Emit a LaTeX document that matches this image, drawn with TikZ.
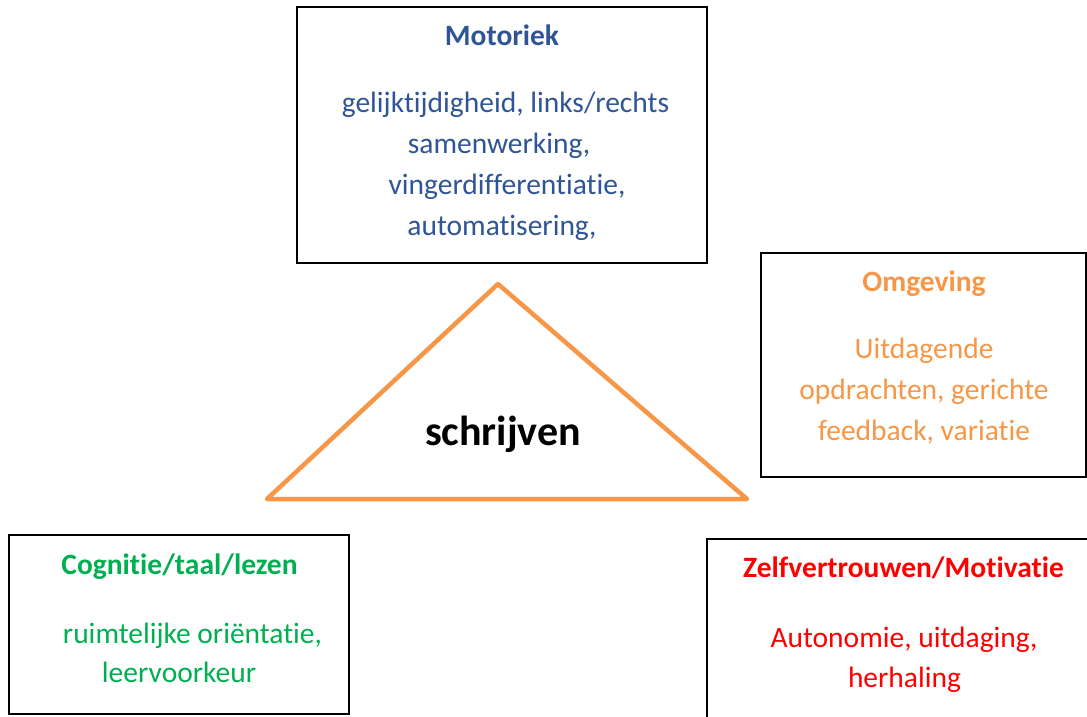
\documentclass[tikz,border=0pt]{standalone}
\usepackage{fontspec}
\setmainfont{Carlito}[Ligatures={NoCommon}]
\definecolor{mblue}{RGB}{47,85,151}
\definecolor{morange}{RGB}{247,150,70}
\definecolor{mgreen}{RGB}{0,176,80}
\definecolor{mred}{RGB}{255,0,0}
\tikzset{
  box/.style={draw=black,line width=2pt},
  ttl/.style={anchor=base,font=\fontsize{29.5}{41}\selectfont\bfseries,inner sep=0pt},
  txt/.style={anchor=base,font=\fontsize{29.5}{41}\selectfont,inner sep=0pt},
  tri/.style={draw=morange,line width=4.5pt,line join=round,line cap=round}
}
\begin{document}
\begin{tikzpicture}[x=1pt,y=-1pt]
\useasboundingbox (0,0) rectangle (1087,717);
\clip (0,0) rectangle (1087,717);
% boxes
\draw[box] (297,7) rectangle (707,263);
\draw[box] (761,253) rectangle (1086,477);
\draw[box] (9,535) rectangle (349,714);
\draw[box] (707,539) rectangle (1102,735);
% triangle
\coordinate (apex) at (498,284);
\coordinate (bl) at (267,499);
\coordinate (br) at (747,499);
\draw[tri] (apex) -- (br) -- (bl) -- cycle;
\node[anchor=base,inner sep=0pt,font=\fontsize{42}{50}\selectfont\bfseries] (schr) at (503,445) {schrijven};
% Motoriek
\node[ttl,text=mblue] (mt) at (502,46) {Motoriek};
\node[txt,text=mblue] (m1) at (505.5,112) {gelijktijdigheid, links/rechts};
\node[txt,text=mblue] (m2) at (499,153) {samenwerking,};
\node[txt,text=mblue] (m3) at (507,194) {vingerdifferentiatie,};
\node[txt,text=mblue] (m4) at (502,235) {automatisering,};
% Omgeving
\node[ttl,text=morange] (ot) at (924,291) {Omgeving};
\node[txt,text=morange] (o1) at (924,358) {Uitdagende};
\node[txt,text=morange] (o2) at (924,399) {opdrachten, gerichte};
\node[txt,text=morange] (o3) at (924,440) {feedback, variatie};
% Cognitie
\node[ttl,text=mgreen] (ct) at (179.5,574) {Cognitie/taal/lezen};
\node[txt,text=mgreen] (c1) at (192.5,643) {ruimtelijke oriëntatie,};
\node[txt,text=mgreen] (c2) at (179,682) {leervoorkeur};
% Zelfvertrouwen
\node[ttl,text=mred] (zt) at (903.5,577) {Zelfvertrouwen/Motivatie};
\node[txt,text=mred] (z1) at (904,647) {Autonomie, uitdaging,};
\node[txt,text=mred] (z2) at (904.5,687) {herhaling};
\end{tikzpicture}
\end{document}
